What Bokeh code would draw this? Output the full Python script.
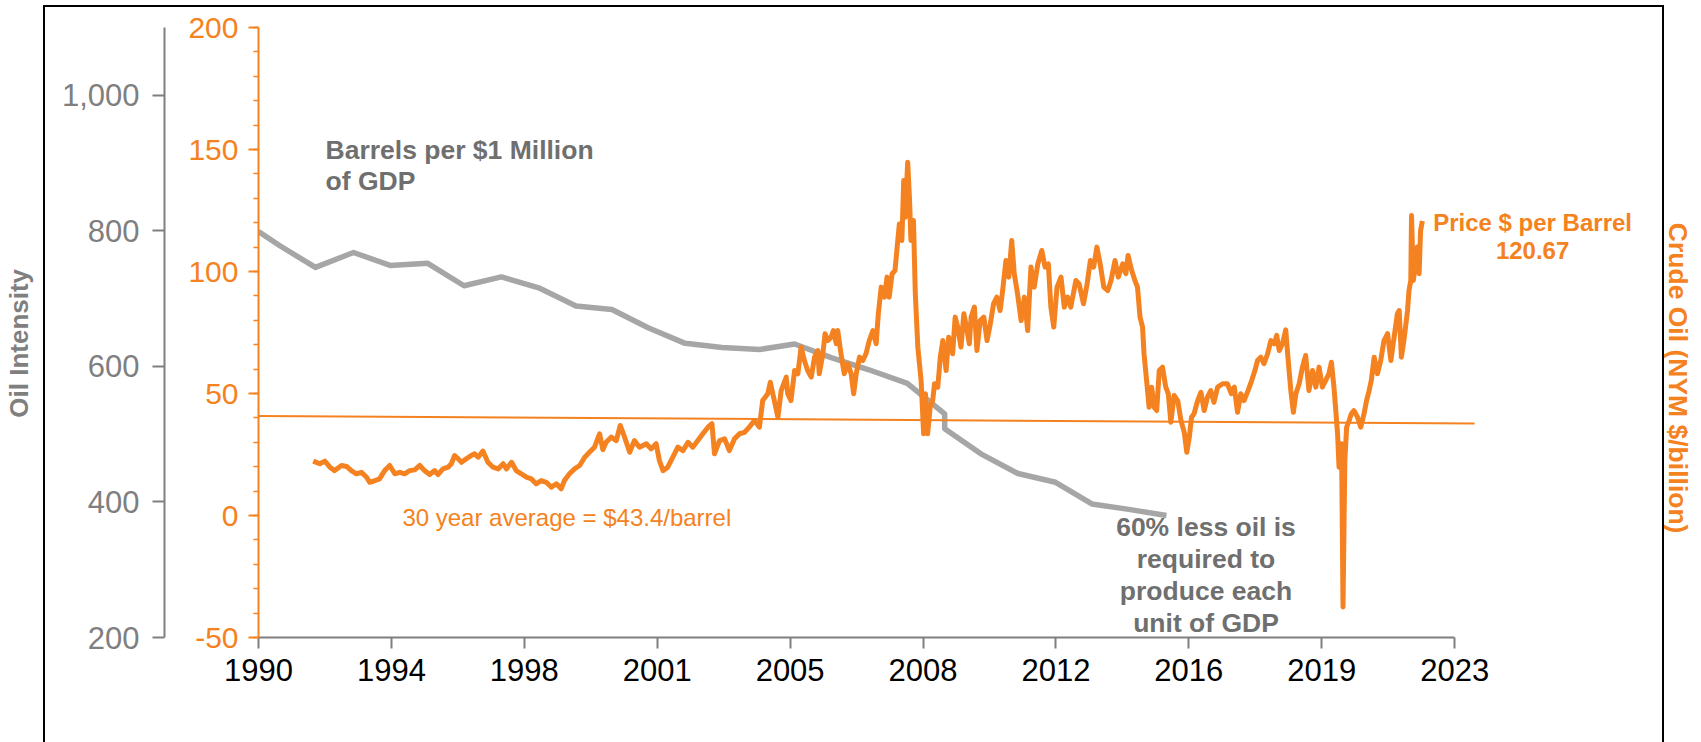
import math
from bokeh.plotting import figure
from bokeh.models import (Range1d, LinearAxis, SingleIntervalTicker, FixedTicker,
                          NumeralTickFormatter, Label, InlineStyleSheet)
from bokeh.embed import file_html
from bokeh.resources import INLINE

# ---------------- data ----------------
# Oil intensity: barrels per $1 million of GDP (left, grey axis)
gdp_year = [1990.00, 1990.59, 1991.57, 1992.62, 1993.63, 1994.67, 1995.67, 1996.70,
            1997.73, 1998.76, 1999.75, 2000.75, 2001.77, 2002.79, 2003.83, 2004.79,
            2005.80, 2006.84, 2007.90, 2008.93, 2008.93, 2009.93, 2010.95, 2011.99,
            2012.99, 2014.01, 2015.05]
gdp_barrels = [799, 778, 746, 768, 749, 752, 719, 732,
               716, 689, 684, 657, 634, 628, 625, 633,
               613, 595, 575, 530, 508, 471, 442, 429,
               397, 389, 380]

# Crude oil price, NYM $ per barrel (orange axis)
oil_year = [
    1991.51, 1991.69, 1991.83, 1991.97, 1992.10, 1992.29, 1992.43, 1992.56, 1992.70, 1992.84,
    1992.98, 1993.07, 1993.21, 1993.34, 1993.48, 1993.62, 1993.76, 1993.90, 1994.03, 1994.17,
    1994.31, 1994.45, 1994.58, 1994.72, 1994.86, 1994.95, 1995.09, 1995.23, 1995.32, 1995.41,
    1995.51, 1995.60, 1995.73, 1995.87, 1995.96, 1996.06, 1996.19, 1996.33, 1996.47, 1996.61,
    1996.75, 1996.84, 1996.98, 1997.11, 1997.25, 1997.39, 1997.53, 1997.66, 1997.80, 1997.94,
    1998.08, 1998.22, 1998.35, 1998.44, 1998.58, 1998.72, 1998.86, 1999.00, 1999.13, 1999.27,
    1999.41, 1999.50, 1999.59, 1999.73, 1999.87, 1999.98, 2000.10, 2000.24, 2000.37, 2000.51,
    2000.70, 2000.83, 2000.97, 2001.06, 2001.16, 2001.29, 2001.43, 2001.57, 2001.71, 2001.85,
    2001.98, 2002.12, 2002.26, 2002.40, 2002.51, 2002.58, 2002.72, 2002.86, 2002.99, 2003.13,
    2003.27, 2003.41, 2003.54, 2003.68, 2003.82, 2003.91, 2004.05, 2004.12, 2004.23, 2004.33,
    2004.42, 2004.56, 2004.60, 2004.69, 2004.79, 2004.88, 2004.97, 2005.06, 2005.15, 2005.25,
    2005.34, 2005.43, 2005.47, 2005.57, 2005.63, 2005.71, 2005.80, 2005.86, 2005.94, 2005.98,
    2006.07, 2006.16, 2006.26, 2006.35, 2006.42, 2006.49, 2006.58, 2006.67, 2006.76, 2006.85,
    2006.95, 2007.04, 2007.10, 2007.18, 2007.27, 2007.34, 2007.40, 2007.48, 2007.56, 2007.62,
    2007.68, 2007.75, 2007.80, 2007.84, 2007.91, 2007.96, 2008.00, 2008.07, 2008.12, 2008.19,
    2008.28, 2008.35, 2008.40, 2008.46, 2008.53, 2008.60, 2008.65, 2008.74, 2008.81, 2008.88,
    2008.97, 2009.04, 2009.15, 2009.22, 2009.29, 2009.38, 2009.46, 2009.55, 2009.61, 2009.66,
    2009.75, 2009.82, 2009.91, 2010.01, 2010.10, 2010.19, 2010.28, 2010.37, 2010.46, 2010.53,
    2010.62, 2010.70, 2010.78, 2010.85, 2010.94, 2011.04, 2011.13, 2011.22, 2011.31, 2011.40,
    2011.50, 2011.61, 2011.70, 2011.79, 2011.86, 2011.94, 2012.03, 2012.14, 2012.23, 2012.32,
    2012.41, 2012.55, 2012.64, 2012.76, 2012.86, 2012.95, 2013.04, 2013.13, 2013.22, 2013.32,
    2013.43, 2013.52, 2013.63, 2013.72, 2013.84, 2013.93, 2013.99, 2014.09, 2014.18, 2014.25,
    2014.32, 2014.39, 2014.43, 2014.51, 2014.57, 2014.64, 2014.71, 2014.78, 2014.85, 2014.94,
    2015.03, 2015.10, 2015.17, 2015.26, 2015.36, 2015.45, 2015.54, 2015.61, 2015.68, 2015.74,
    2015.81, 2015.91, 2016.00, 2016.09, 2016.18, 2016.27, 2016.36, 2016.46, 2016.60, 2016.73,
    2016.84, 2016.92, 2017.01, 2017.10, 2017.19, 2017.30, 2017.40, 2017.49, 2017.56, 2017.65,
    2017.74, 2017.84, 2017.93, 2018.02, 2018.09, 2018.16, 2018.25, 2018.34, 2018.40, 2018.48,
    2018.55, 2018.62, 2018.71, 2018.80, 2018.89, 2018.98, 2019.08, 2019.17, 2019.26, 2019.35,
    2019.44, 2019.53, 2019.60, 2019.67, 2019.77, 2019.81, 2019.88, 2019.92, 2019.97, 2020.02,
    2020.09, 2020.15, 2020.22, 2020.32, 2020.41, 2020.50, 2020.57, 2020.64, 2020.70, 2020.78,
    2020.87, 2020.96, 2021.05, 2021.15, 2021.24, 2021.33, 2021.42, 2021.47, 2021.53, 2021.60,
    2021.70, 2021.74, 2021.79, 2021.81, 2021.86, 2021.92, 2021.97, 2022.02, 2022.06, 2022.11]
oil_price = [
    22.3, 21.2, 22.3, 19.8, 18.4, 20.5, 20.1, 18.4, 17.1, 17.7,
    15.7, 13.6, 14.3, 15.0, 18.4, 20.5, 17.1, 17.7, 17.1, 18.4,
    18.7, 20.5, 18.4, 16.8, 18.4, 16.8, 19.1, 19.8, 21.2, 24.6,
    23.2, 21.8, 23.2, 24.6, 25.3, 23.9, 26.4, 21.8, 19.8, 19.1,
    21.2, 19.1, 21.8, 18.4, 17.1, 15.7, 15.0, 13.0, 14.3, 13.6,
    11.6, 13.0, 10.9, 14.3, 17.1, 19.1, 20.5, 23.9, 25.9, 28.0,
    33.5, 27.0, 30.0, 32.1, 30.7, 36.9, 32.1, 25.9, 30.7, 28.0,
    29.4, 27.3, 29.4, 22.5, 18.4, 19.8, 23.9, 28.0, 26.6, 30.0,
    28.0, 30.7, 33.5, 36.2, 37.6, 25.3, 30.7, 31.4, 26.6, 31.4,
    33.5, 34.1, 36.2, 38.9, 36.2, 47.1, 49.9, 54.6, 47.1, 40.3,
    51.2, 56.7, 49.9, 47.1, 59.4, 58.1, 69.0, 63.5, 59.4, 56.7,
    64.9, 67.6, 58.1, 66.3, 74.5, 71.7, 73.1, 75.8, 70.4, 75.8,
    66.3, 58.1, 62.2, 58.1, 49.9, 58.1, 64.9, 63.5, 66.3, 71.7,
    75.8, 70.4, 82.7, 93.6, 89.5, 97.7, 89.5, 99.1, 100.4, 110.0,
    119.5, 112.7, 137.3, 122.2, 144.8, 129.8, 112.7, 120.9, 90.9, 69.0,
    55.3, 33.5, 49.9, 33.5, 44.4, 47.1, 54.0, 52.6, 64.9, 71.7,
    59.4, 73.1, 66.3, 81.3, 77.2, 69.0, 82.7, 75.8, 70.4, 81.3,
    85.4, 67.6, 79.9, 81.3, 71.7, 78.6, 86.8, 89.5, 84.0, 92.2,
    104.5, 97.7, 112.7, 99.1, 90.9, 79.9, 89.5, 75.8, 101.8, 93.6,
    103.1, 108.6, 101.8, 103.1, 85.4, 77.2, 93.6, 97.7, 85.4, 89.5,
    85.4, 96.3, 94.9, 86.8, 94.9, 104.5, 101.8, 110.0, 103.1, 93.6,
    92.2, 96.3, 104.5, 97.7, 103.1, 99.1, 106.6, 100.4, 96.3, 93.6,
    81.3, 77.2, 66.3, 54.0, 44.4, 52.6, 44.4, 43.0, 59.4, 60.8,
    52.6, 49.9, 38.2, 49.2, 47.1, 38.9, 34.1, 25.9, 32.1, 40.3,
    41.7, 47.1, 50.5, 43.0, 48.5, 51.2, 46.4, 52.6, 54.0, 54.0,
    49.9, 52.6, 42.3, 49.9, 47.1, 51.2, 55.3, 59.4, 63.5, 64.9,
    62.2, 66.3, 71.7, 70.4, 73.8, 67.6, 70.4, 76.1, 64.9, 51.2,
    42.3, 49.9, 54.0, 60.8, 65.6, 51.2, 59.4, 52.6, 60.8, 52.6,
    55.3, 58.1, 62.8, 52.6, 33.5, 19.8, 29.4, -37.5, 22.5, 36.2,
    38.9, 41.7, 43.0, 40.3, 36.2, 41.7, 47.1, 51.2, 55.3, 64.9,
    58.1, 63.5, 71.7, 74.5, 63.5, 73.1, 82.7, 84.0, 64.9, 71.7,
    84.0, 92.2, 96.3, 122.9, 96.3, 103.1, 110.0, 99.1, 116.8, 120.7]

# 30-year average reference line (as drawn)
avg_year = [1990.0, 2023.55]
avg_price = [40.8, 37.7]

# axis ticks and labels
x_tick_labels = ["1990", "1994", "1998", "2001", "2005", "2008", "2012", "2016", "2019", "2023"]
x_tick_pos = [1990 + i * 33 / 9 for i in range(len(x_tick_labels))]
last_price = "120.67"

# ---------------- style ----------------
ORANGE = "#F58220"
GREY_LINE = "#A6A6A6"
GREY_AXIS = "#7F7F7F"
GREY_TEXT = "#6F6F6F"
FONT = "Liberation Sans"

W, H = 1701, 742
p = figure(width=W, height=H, output_backend="svg", toolbar_location=None,
           x_range=Range1d(1990, 2029.81), y_range=Range1d(-50, 200),
           min_border_left=257, min_border_right=0, min_border_top=27,
           min_border_bottom=105, background_fill_color="white",
           border_fill_color="white", outline_line_color=None)
p.extra_y_ranges = {"intensity": Range1d(200, 1100)}
p.grid.visible = False

# slide frame (thin black box around the chart, open at the bottom)
p.stylesheets = [InlineStyleSheet(css="""
:host { position: relative; }
:host::after { content: ""; position: absolute; left: 43px; top: 5px;
  width: 1621px; height: 737px; box-sizing: border-box;
  border: 2px solid #000; border-bottom: none;
  pointer-events: none; z-index: 10; }
""")]

# orange (price) axis, next to the frame
oy = p.yaxis[0]
oy.ticker = SingleIntervalTicker(interval=50, num_minor_ticks=5)
oy.major_label_overrides = {-50: "-50"}
oy.axis_line_color = ORANGE
oy.axis_line_width = 2
oy.major_tick_line_color = ORANGE
oy.major_tick_line_width = 2
oy.major_tick_out = 10
oy.major_tick_in = 0
oy.minor_tick_line_color = ORANGE
oy.minor_tick_line_width = 1.5
oy.minor_tick_out = 5
oy.minor_tick_in = 0
oy.major_label_text_color = ORANGE
oy.major_label_text_font = FONT
oy.major_label_text_font_size = "30px"
oy.major_label_standoff = 10
oy.axis_label = " "
oy.axis_label_text_font_size = "10px"
oy.axis_label_standoff = 7

# grey (intensity) axis, outside the orange one
gy = LinearAxis(y_range_name="intensity",
                ticker=SingleIntervalTicker(interval=200, num_minor_ticks=0),
                formatter=NumeralTickFormatter(format="0,0"))
gy.axis_line_color = GREY_AXIS
gy.axis_line_width = 2
gy.major_tick_line_color = GREY_AXIS
gy.major_tick_line_width = 2
gy.major_tick_out = 12
gy.major_tick_in = 0
gy.minor_tick_line_color = None
gy.major_label_text_color = GREY_AXIS
gy.major_label_text_font = FONT
gy.major_label_text_font_size = "31px"
gy.major_label_standoff = 13
gy.axis_label = "Oil Intensity\u00a0\u00a0\u00a0"
gy.axis_label_text_font = FONT
gy.axis_label_text_font_style = "bold"
gy.axis_label_text_font_size = "26px"
gy.axis_label_text_color = GREY_AXIS
gy.axis_label_standoff = 25
p.add_layout(gy, "left")

# x axis
xa = p.xaxis[0]
xa.ticker = FixedTicker(ticks=x_tick_pos)
xa.major_label_overrides = dict(zip(x_tick_pos, x_tick_labels))
xa.bounds = (x_tick_pos[0], x_tick_pos[-1])
xa.axis_line_color = GREY_AXIS
xa.axis_line_width = 2
xa.major_tick_line_color = GREY_AXIS
xa.major_tick_line_width = 2
xa.major_tick_out = 11
xa.major_tick_in = 0
xa.minor_tick_line_color = None
xa.major_label_text_color = "black"
xa.major_label_text_font = FONT
xa.major_label_text_font_size = "31px"
xa.major_label_standoff = 10

# series
p.line(gdp_year, gdp_barrels, y_range_name="intensity", line_color=GREY_LINE,
       line_width=5.5, line_join="round")
p.line(avg_year, avg_price, line_color=ORANGE, line_width=2)
p.line(oil_year, oil_price, line_color=ORANGE, line_width=5, line_join="round")

def lab(x, y, text, color, size, bold=True, align="left", angle=0.0, baseline="alphabetic"):
    p.add_layout(Label(x=x, y=y, text=text, text_color=color, text_font=FONT,
                       text_font_size=size, text_font_style="bold" if bold else "normal",
                       text_align=align, text_baseline=baseline, angle=angle))

lab(1991.85, 150.0, "Barrels per $1 Million", GREY_TEXT, "26.5px")
lab(1991.85, 137.1, "of GDP", GREY_TEXT, "26.5px")
for txt, yy in zip(["60% less oil is", "required to", "produce each", "unit of GDP"],
                   [-4.9, -18.0, -31.1, -44.2]):
    lab(2016.14, yy, txt, GREY_TEXT, "26.5px", align="center")
lab(1993.97, -0.8, "30 year average = $43.4/barrel", ORANGE, "24px", bold=False)
lab(2025.15, 120.1, "Price $ per Barrel", ORANGE, "24px", align="center")
lab(2025.15, 108.6, last_price, ORANGE, "24px", align="center")
lab(2029.15, 56.3, "Crude Oil (NYM $/billion)", ORANGE, "26.5px", align="center",
    angle=-math.pi / 2, baseline="middle")

open("out.html", "w").write(file_html(p, INLINE))
